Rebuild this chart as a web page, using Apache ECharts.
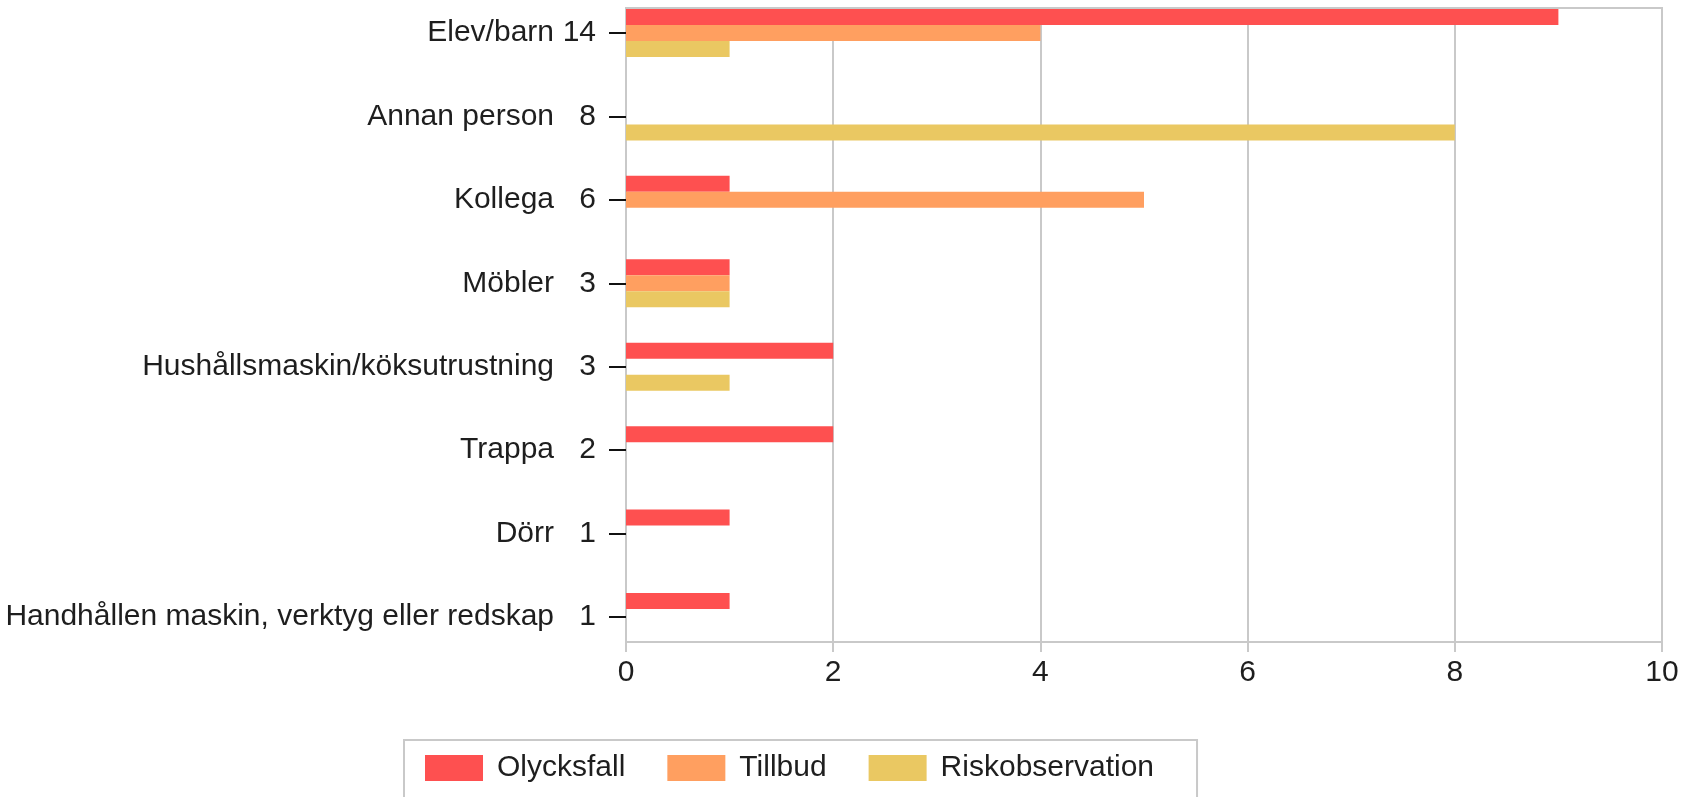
<!DOCTYPE html>
<html>
<head>
<meta charset="utf-8">
<title>Händelser per orsak</title>
<script src="https://cdn.jsdelivr.net/npm/echarts@6/dist/echarts.min.js"></script>
<style>
  html, body { margin: 0; padding: 0; background: #fff; }
  #main { width: 1697px; height: 797px; }
</style>
</head>
<body>
<div id="main"></div>
<script>
// kategorier uppifrån och ner
var categories = ['Elev/barn', 'Annan person', 'Kollega', 'Möbler',
  'Hushållsmaskin/köksutrustning', 'Trappa', 'Dörr',
  'Handhållen maskin, verktyg eller redskap'];
// totalsiffran som står vid varje kategori
var totals = [14, 8, 6, 3, 3, 2, 1, 1];
var olycksfall = [9, 0, 1, 1, 2, 2, 1, 1];
var tillbud = [4, 0, 5, 1, 0, 0, 0, 0];
var riskobservation = [1, 8, 0, 1, 1, 0, 0, 0];
var xTicks = [0, 10, 2]; // min, max, steg

var font = 'Liberation Sans, Arial, sans-serif';
var gray = '#c9c9c9';
var textColor = '#1e1e1e';

var myChart = echarts.init(document.getElementById('main'));

function bar(name, data) {
  return {
    name: name,
    type: 'bar',
    xAxisIndex: 1,
    yAxisIndex: 1,
    barWidth: 16,
    barGap: '0%',
    data: data
  };
}

var option = {
  animation: false,
  textStyle: { fontFamily: font },
  color: ['#fe5050', '#ff9f60', '#eac862'],
  grid: [
    // ramen med skala och stödlinjer
    { left: 626, top: 8, width: 1036, height: 634, show: true,
      borderColor: gray, borderWidth: 2 },
    // staplarna: första kategorin vid y=33, sista vid y=617
    { left: 626, top: 33, width: 1036, height: 584 }
  ],
  xAxis: [
    {
      type: 'value', gridIndex: 0,
      min: xTicks[0], max: xTicks[1], interval: xTicks[2],
      axisLine: { show: true, lineStyle: { color: gray, width: 2 } },
      axisTick: { show: true, length: 10, lineStyle: { color: gray, width: 2 } },
      splitLine: { show: true, lineStyle: { color: gray, width: 2 } },
      axisLabel: { fontSize: 30, color: textColor, margin: 16, fontFamily: font }
    },
    {
      type: 'value', gridIndex: 1, show: false,
      min: xTicks[0], max: xTicks[1]
    }
  ],
  yAxis: [
    { type: 'value', gridIndex: 0, show: false, min: 0, max: 1 },
    {
      type: 'category', gridIndex: 1, inverse: true,
      boundaryGap: false,
      data: categories,
      axisLine: { show: false },
      axisTick: { show: true, length: 17,
        lineStyle: { color: '#111', width: 2 } },
      splitLine: { show: false },
      axisLabel: {
        margin: 30,
        fontFamily: font,
        formatter: function (v, i) {
          return '{n|' + v + '}{v|' + totals[i] + '}';
        },
        rich: {
          n: { fontSize: 30, color: textColor, fontFamily: font },
          v: { fontSize: 30, color: textColor, fontFamily: font, width: 42, align: 'right' }
        }
      }
    }
  ],
  legend: {
    left: 404,
    top: 740,
    orient: 'horizontal',
    itemWidth: 58,
    itemHeight: 26,
    itemGap: 42,
    padding: [13, 43, 30, 21],
    borderColor: gray,
    borderWidth: 2,
    icon: 'rect',
    textStyle: { fontSize: 30, color: textColor, fontFamily: font, padding: [0, 0, 0, 9] },
    data: ['Olycksfall', 'Tillbud', 'Riskobservation']
  },
  series: [
    bar('Olycksfall', olycksfall),
    bar('Tillbud', tillbud),
    bar('Riskobservation', riskobservation)
  ]
};

myChart.setOption(option);
</script>
</body>
</html>
